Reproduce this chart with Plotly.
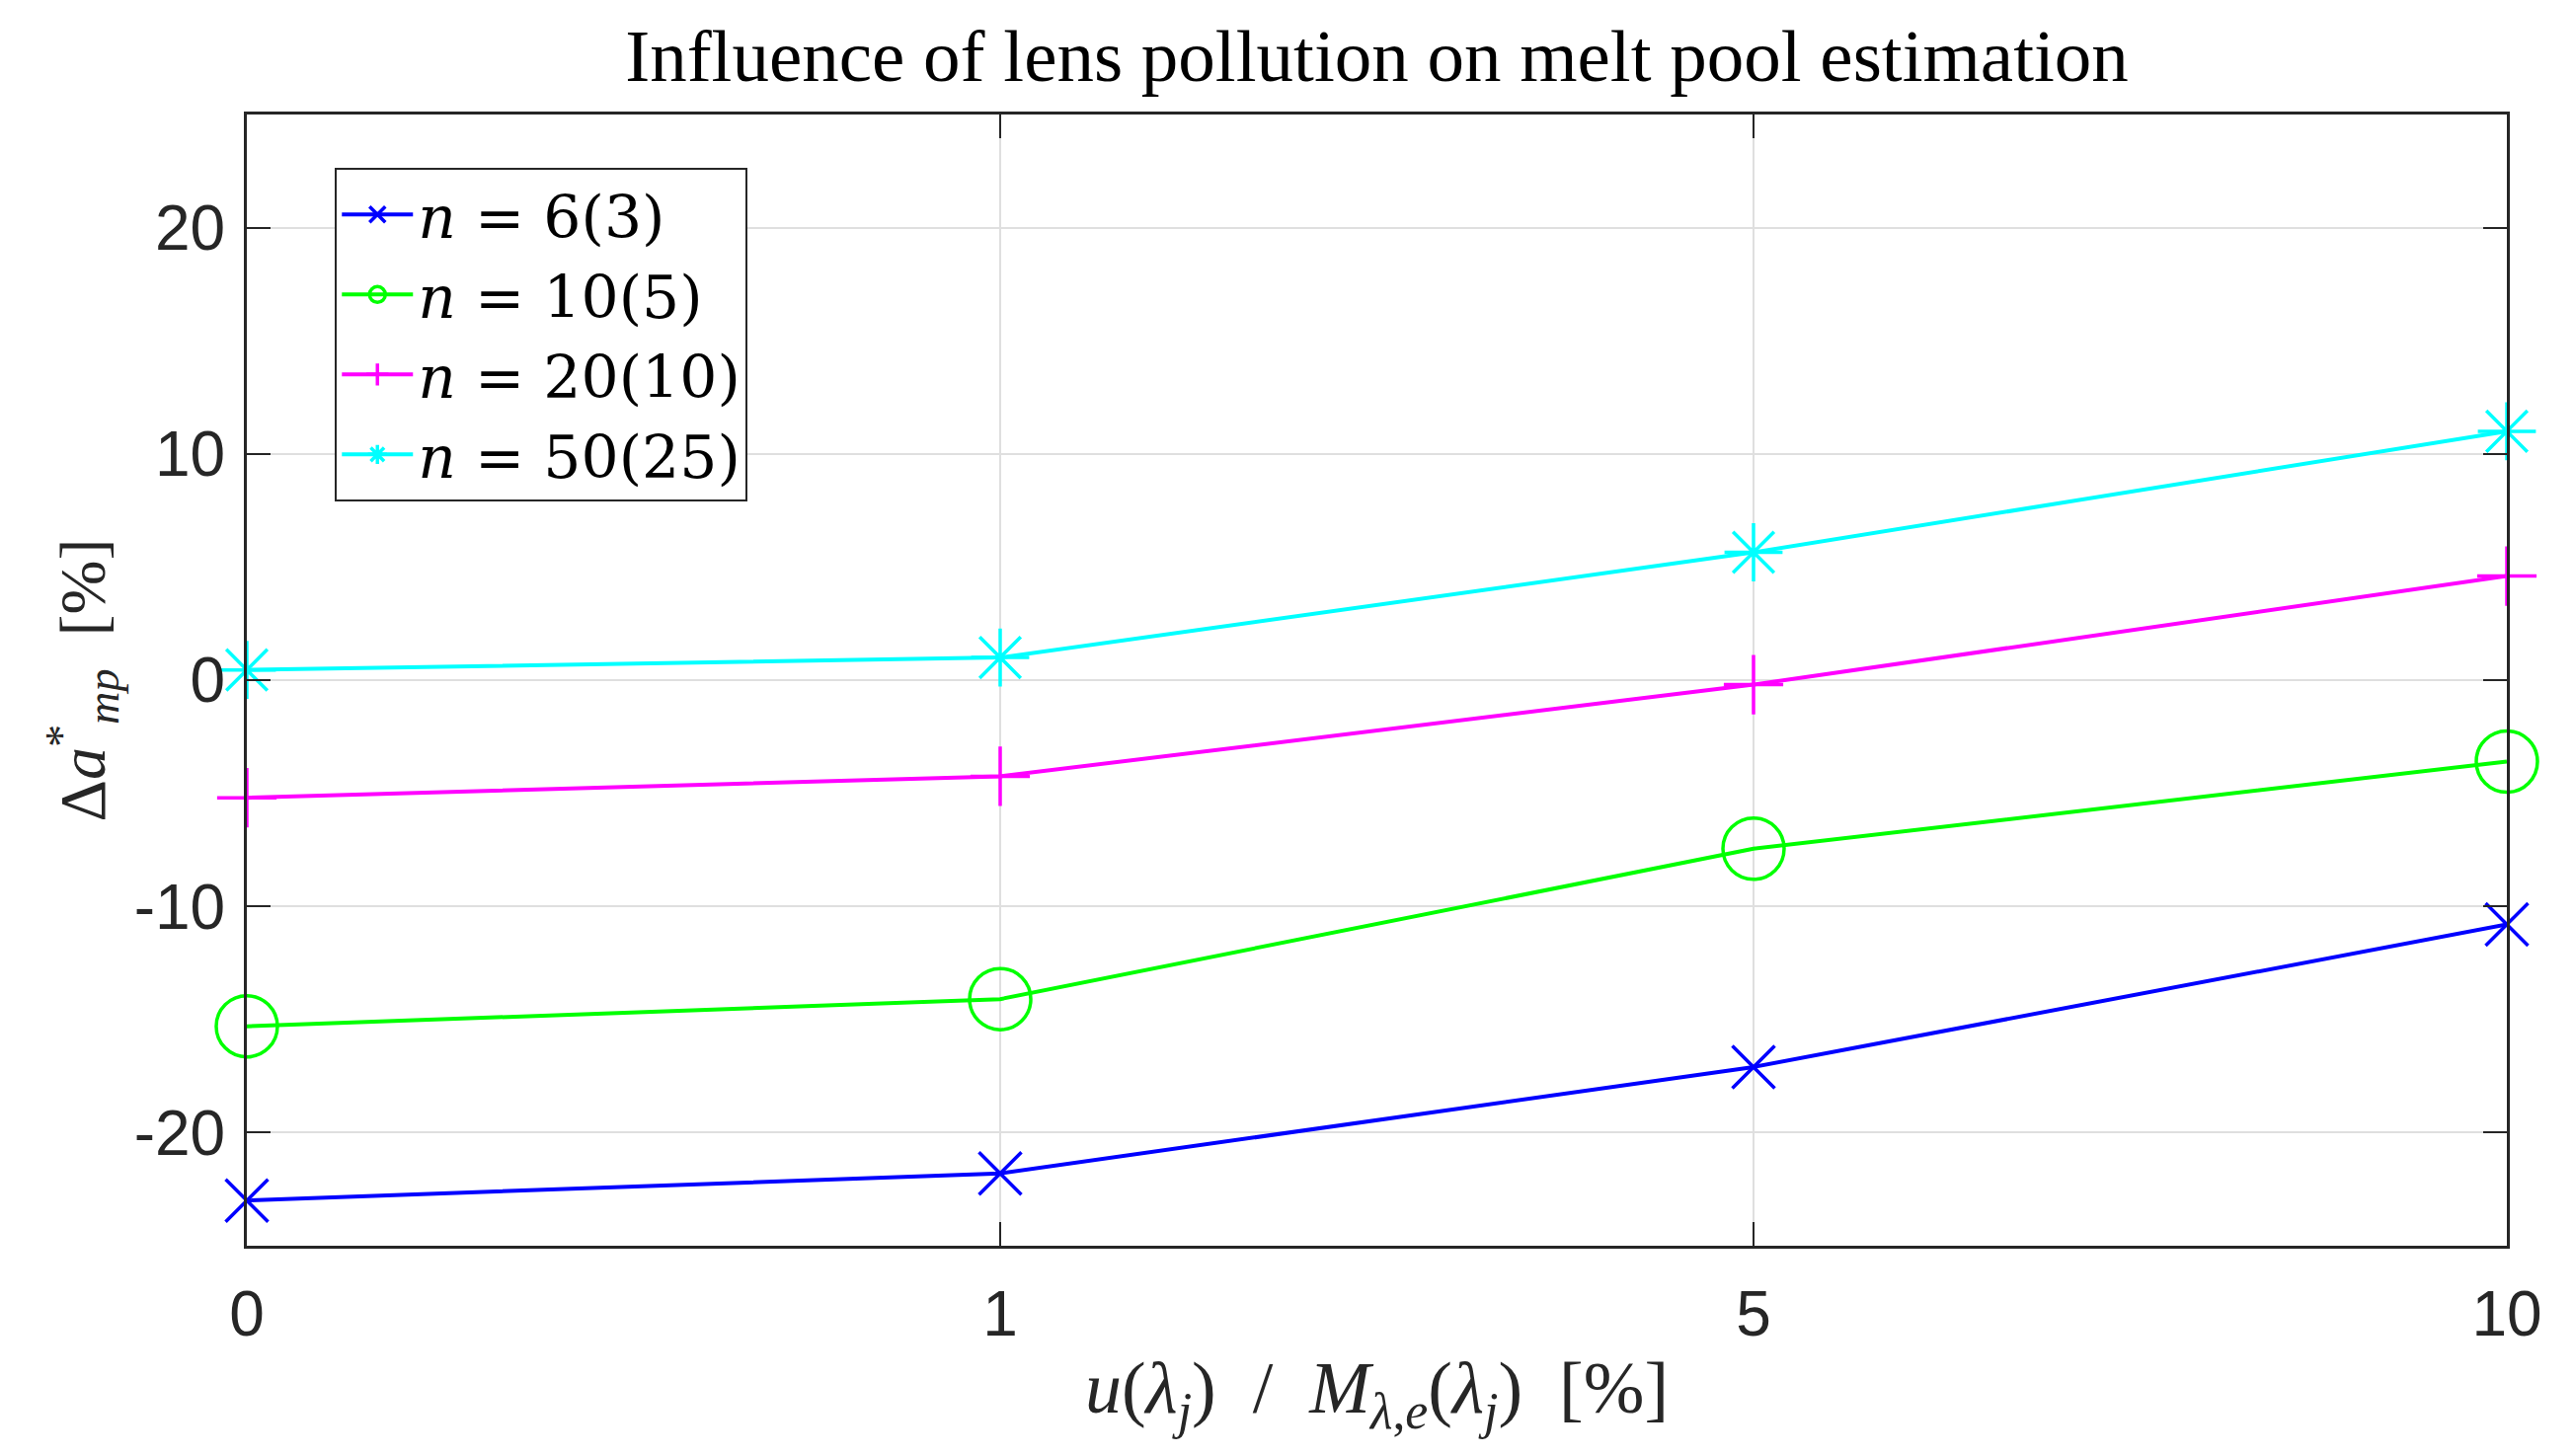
import plotly.graph_objects as go

# ---- data ----
x_labels = ["0", "1", "5", "10"]
series_names = ["<i>n</i> = 6(3)", "<i>n</i> = 10(5)",
                "<i>n</i> = 20(10)", "<i>n</i> = 50(25)"]
n6 = [-23.0, -21.8, -17.1, -10.8]
n10 = [-15.3, -14.1, -7.45, -3.6]
n20 = [-5.2, -4.25, -0.2, 4.6]
n50 = [0.45, 1.0, 5.65, 11.0]
y_ticks = [-20, -10, 0, 10, 20]
y_tick_text = ["-20", "-10", "0", "10", "20"]

series_values = [n6, n10, n20, n50]
colors = ["#0000FF", "#00FF00", "#FF00FF", "#00FFFF"]
symbols = ["x-thin", "circle-open", "cross-thin", "asterisk"]
sizes = [43, 62, 43, 49]

fig = go.Figure()
for name, vals, col, sym, sz in zip(series_names, series_values, colors, symbols, sizes):
    fig.add_trace(go.Scatter(
        x=x_labels, y=vals, name=name, mode="lines+markers",
        line=dict(color=col, width=4),
        marker=dict(symbol=sym, size=sz, color=col, line=dict(color=col, width=3.5)),
        cliponaxis=False,
    ))

axis_col = "#262626"
grid_col = "#DFDFDF"
serif = "Liberation Serif, Times New Roman, serif"
legend_serif = "DejaVu Serif, serif"
sans = "Liberation Sans, Arial, sans-serif"

fig.update_layout(
    width=2607, height=1475,
    margin=dict(l=250, r=68, t=116, b=213),
    paper_bgcolor="white", plot_bgcolor="white",
    title=dict(text="Influence of lens pollution on melt pool estimation",
               font=dict(family=serif, size=75, color="black"),
               x=0.5, xanchor="center", xref="paper",
               y=1 - 56 / 1475, yanchor="middle", yref="container"),
    legend=dict(x=0.039, y=0.953, xanchor="left", yanchor="top",
                bgcolor="white", bordercolor=axis_col, borderwidth=2,
                font=dict(family=legend_serif, size=60, color="black"),
                itemwidth=72, tracegroupgap=0),
    showlegend=True,
)

fig.update_xaxes(
    type="category", range=[0, 3],
    showline=True, linecolor=axis_col, linewidth=3, mirror="ticks",
    ticks="inside", ticklen=24, tickwidth=2, tickcolor=axis_col,
    showgrid=True, gridcolor=grid_col, gridwidth=2, zeroline=False,
    tickfont=dict(family=sans, size=64, color=axis_col),
    ticklabelstandoff=11,
    title=dict(text="<i>u</i>(<i>λ<sub>j</sub></i>)\u2002/\u2002<i>M</i><sub><i>λ</i>,<i>e</i></sub>(<i>λ<sub>j</sub></i>)\u2002[%]",
               font=dict(family=serif, size=74, color=axis_col), standoff=14),
)
fig.update_yaxes(
    range=[-25, 25], tickvals=y_ticks, ticktext=y_tick_text,
    showline=True, linecolor=axis_col, linewidth=3, mirror="ticks",
    ticks="inside", ticklen=24, tickwidth=2, tickcolor=axis_col,
    showgrid=True, gridcolor=grid_col, gridwidth=2, zeroline=False,
    tickfont=dict(family=sans, size=64, color=axis_col),
    ticklabelstandoff=6,
    title=dict(text="Δ<i>a</i><sup>*</sup><sub><i>mp</i></sub>\u2002[%]",
               font=dict(family=serif, size=66, color=axis_col), standoff=8),
)

fig.write_html("out.html")
